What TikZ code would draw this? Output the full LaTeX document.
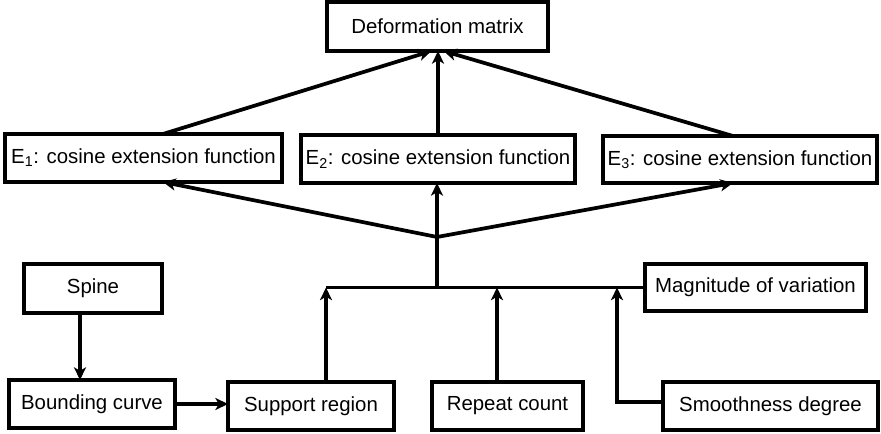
\documentclass[tikz,border=0pt]{standalone}
\usepackage{fontspec}
\setmainfont{Liberation Sans}
\usetikzlibrary{arrows.meta,calc}
\begin{document}
\begin{tikzpicture}[x=0.75pt,y=-0.75pt,
  box/.style={draw=black,line width=2.3pt,fill=white,inner sep=0pt,outer sep=0pt,
    font=\fontsize{15.3pt}{18pt}\selectfont},
  tip/.style={-{Stealth[length=9.5pt,width=9pt,inset=2.6pt]}},
  thickarr/.style={tip,line width=2.8pt},
  medarr/.style={tip,line width=2.3pt},
  thin/.style={line width=1.7pt}]
\useasboundingbox (0,0) rectangle (881,434);
% boxes
\node[box,minimum width={221*0.75pt},minimum height={49*0.75pt}] (dm) at (437.5,26.5) {Deformation matrix};
\node[box,minimum width={277*0.75pt},minimum height={48*0.75pt}] (e1) at (143.5,158) {E\textsubscript{1}: cosine extension function};
\node[box,minimum width={274*0.75pt},minimum height={48*0.75pt}] (e2) at (438,159) {E\textsubscript{2}: cosine extension function};
\node[box,minimum width={274*0.75pt},minimum height={47*0.75pt}] (e3) at (740,159.5) {E\textsubscript{3}: cosine extension function};
\node[box,minimum width={138*0.75pt},minimum height={49*0.75pt}] (spine) at (93,288.5) {Spine};
\node[box,minimum width={221*0.75pt},minimum height={47*0.75pt}] (mag) at (755.5,287.5) {Magnitude of variation};
\node[box,minimum width={166*0.75pt},minimum height={48*0.75pt}] (bound) at (92,404) {Bounding curve};
\node[box,minimum width={166*0.75pt},minimum height={48*0.75pt}] (sup) at (311,406) {Support region};
\node[box,minimum width={151*0.75pt},minimum height={48*0.75pt}] (rep) at (507.5,406) {Repeat count};
\node[box,minimum width={215*0.75pt},minimum height={48*0.75pt}] (smooth) at (770.5,406) {Smoothness degree};
% helper coordinates
\coordinate (j) at (437,237);
\coordinate (b3) at (617,0);
\coordinate (a1) at ($(sup.north)+(15,0)$);
\coordinate (a2) at ($(rep.north)+(-10.5,0)$);
\coordinate (a3) at ($(smooth.west)+(0,-4)$);
\coordinate (s1) at ($(spine.south)+(-13,0)$);
% top arrows
\draw[thickarr] ($(e1.north)+(19.5,0)$) -- ($(dm.south)+(-6,0)$);
\draw[thickarr] (e2.north) -- (e2.north |- dm.south);
\draw[thickarr] ($(e3.north)+(-7,0)$) -- ($(dm.south)+(6,0)$);
% junction arrows
\draw[thickarr] (j) -- ($(e1.south)+(19.5,0)$);
\draw[thickarr] (j) -- (j |- e2.south);
\draw[thickarr] (j) -- ($(e3.south)+(-7,0)$);
% bus
\draw[line width=2.4pt] (j |- mag.west) -- (j);
\draw[thin] (a1 |- mag.west) -- (mag.west);
% up arrows to bus
\draw[medarr] (a1) -- (a1 |- mag.west);
\draw[medarr] (a2) -- (a2 |- mag.west);
\draw[medarr] (a3) -| (b3 |- mag.west);
% left chain
\draw[medarr] (s1) -- (s1 |- bound.north);
\draw[tip,line width=3.2pt] (bound.east) -- (bound.east -| sup.west);
\end{tikzpicture}
\end{document}
